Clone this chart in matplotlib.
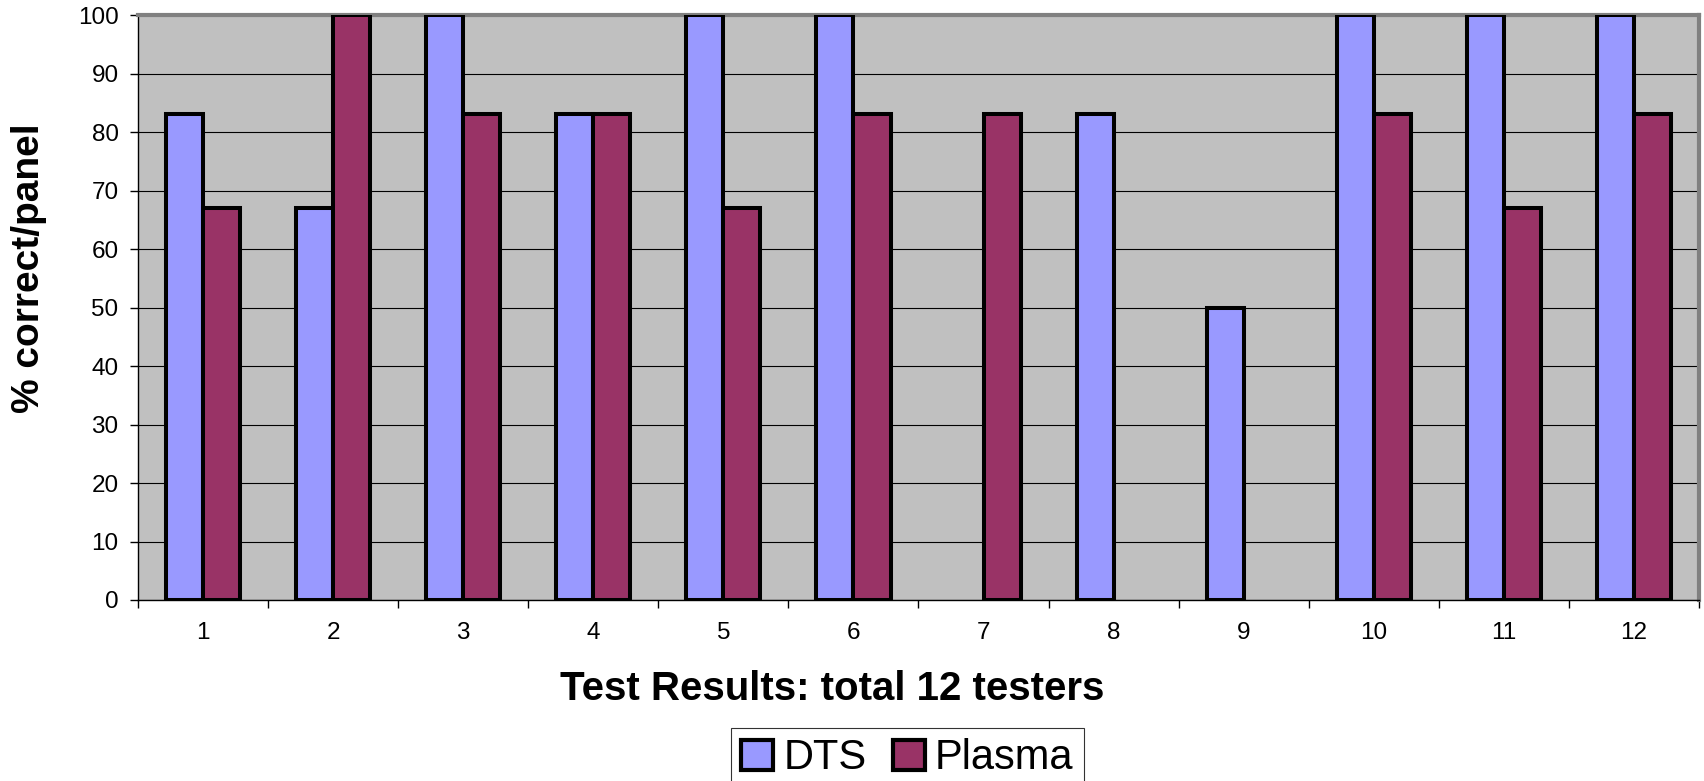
import matplotlib
matplotlib.use("Agg")
import matplotlib.pyplot as plt
import numpy as np

categories = ["1", "2", "3", "4", "5", "6", "7", "8", "9", "10", "11", "12"]
dts = [83, 67, 100, 83, 100, 100, 0, 83, 50, 100, 100, 100]
plasma = [67, 100, 83, 83, 67, 83, 83, 0, 0, 83, 67, 83]
series_names = ["DTS", "Plasma"]
colors = ["#9999FF", "#993366"]

plt.rcParams['font.family'] = ['Liberation Sans', 'DejaVu Sans']

W, H = 1704, 781
fig = plt.figure(figsize=(W / 100, H / 100), dpi=100)
ax = fig.add_axes([138 / W, 1 - 600 / H, (1699 - 138) / W, (600 - 15) / H])
ax.set_facecolor("#C0C0C0")

x = np.arange(1, len(categories) + 1)
bw = 0.285
b1 = ax.bar(x - bw / 2, dts, bw, color=colors[0], edgecolor="black", linewidth=2.9, zorder=3, label=series_names[0])
b2 = ax.bar(x + bw / 2, plasma, bw, color=colors[1], edgecolor="black", linewidth=2.9, zorder=3, label=series_names[1])
for p in list(b1) + list(b2):
    if p.get_height() == 0:
        p.set_linewidth(0)

ax.set_xlim(0.5, len(categories) + 0.5)
ax.set_ylim(0, 100)
ax.set_yticks(np.arange(0, 101, 10))
ax.yaxis.grid(True, color="black", linewidth=0.8, zorder=1)
ax.set_axisbelow(True)

ax.set_xticks(x)
ax.set_xticklabels(categories)
ax.set_xticks(np.arange(0.5, len(categories) + 1, 1), minor=True)
ax.tick_params(axis="x", which="major", length=0, pad=16, labelsize=17.5)
ax.tick_params(axis="x", which="minor", length=6, width=1, direction="out", color="black")
ax.tick_params(axis="y", which="major", length=6, width=1, pad=8, labelsize=17.5)

for s in ["top", "right"]:
    ax.spines[s].set_color("#808080")
    ax.spines[s].set_linewidth(3)
for s in ["left", "bottom"]:
    ax.spines[s].set_color("black")
    ax.spines[s].set_linewidth(1)

fig.text(29 / W, 1 - 268 / H, "% correct/panel", rotation=90, ha="center", va="center",
         fontsize=28, fontweight="bold")
fig.text(832 / W, 1 - 689 / H, "Test Results: total 12 testers", ha="center",
         va="center", fontsize=29, fontweight="bold")

leg = fig.legend(handles=[b1, b2], labels=series_names, loc="upper center",
                 bbox_to_anchor=(907.5 / W, 1 - 728 / H), ncol=2, fontsize=30,
                 frameon=True, fancybox=False, shadow=False, handlelength=0.75,
                 handleheight=0.72, handletextpad=0.25, columnspacing=0.65,
                 borderpad=0.25, borderaxespad=0)
leg.get_frame().set_edgecolor("black")
leg.get_frame().set_linewidth(0.8)
for h in leg.legend_handles:
    h.set_linewidth(3)

fig.savefig("out.png", dpi=100)
